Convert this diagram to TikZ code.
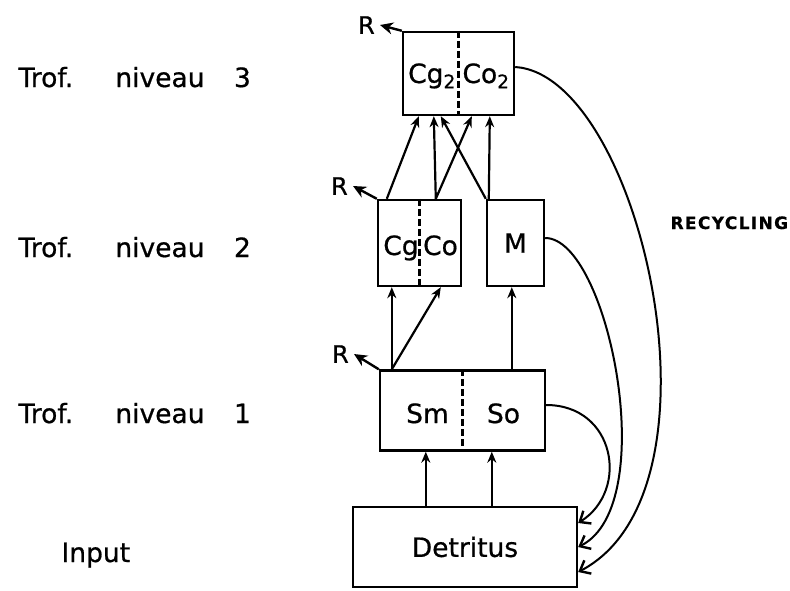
\documentclass[tikz,border=0pt]{standalone}
\usepackage{fontspec}
\setmainfont{DejaVu Sans}[FakeBold=0.7]
\usetikzlibrary{arrows.meta}
\tikzset{
  box/.style={draw,line width=2.4pt,inner sep=0pt},
  lbl/.style={font=\fontsize{26.5}{30}\selectfont},
  rlbl/.style={font=\fontsize{24}{28}\selectfont,anchor=east,inner sep=5pt},
  flow/.style={line width=2.2pt,-{Stealth[length=11pt,width=9pt]}},
  recyc/.style={line width=2pt,-{Straight Barb[length=9pt,width=15pt,line width=2.4pt]}},
  resp/.style={line width=2.4pt,-{Stealth[length=13pt,width=12pt]}},
  split/.style={line width=2.2pt,dash pattern=on 7pt off 3pt}
}
\begin{document}
\begin{tikzpicture}[x=1pt,y=-1pt]
\useasboundingbox (0,0) rectangle (790,590);

% levels
\node[lbl,anchor=base west] (lv3) at (15,87) {Trof. \hspace{31pt}niveau \hspace{21pt}3};
\node[lbl,anchor=base west] (lv2) at (15,257) {Trof. \hspace{31pt}niveau \hspace{21pt}2};
\node[lbl,anchor=base west] (lv1) at (15,423) {Trof. \hspace{31pt}niveau \hspace{21pt}1};
\node[lbl,anchor=base west] (inp) at (58,562) {Input};

% boxes
\node[box,minimum width=111pt,minimum height=83pt] (T3) at (458.5,73.5) {};
\node[box,minimum width=83pt,minimum height=86pt] (CgCo) at (419.5,243) {};
\node[box,lbl,minimum width=57pt,minimum height=86pt] (M) at (515.5,243) {M};
\node[box,minimum width=165pt,minimum height=80pt] (SmSo) at (462.5,410.5) {};
\node[box,lbl,minimum width=224pt,minimum height=80pt] (Det) at (465,547) {Detritus};
\draw[split] (T3.north) -- (T3.south);
\draw[split] (CgCo.north) -- (CgCo.south);
\draw[split] (SmSo.north) -- (SmSo.south);
\node[lbl,anchor=base] (cg2) at (432,83) {Cg\textsubscript{2}};
\node[lbl,anchor=base] (co2) at (486,83) {Co\textsubscript{2}};
\node[lbl,anchor=base] (cg) at (401,255) {Cg};
\node[lbl,anchor=base] (co) at (440.5,255) {Co};
\node[lbl,anchor=base] (sm) at (427.5,423) {Sm};
\node[lbl,anchor=base] (so) at (503.5,423) {So};

% respiration
\node[rlbl] (R3) at (380,25) {R};
\node[rlbl] (R2) at (353,186) {R};
\node[rlbl] (R1) at (354,354) {R};
\draw[resp] (T3.north west) -- (R3.east);
\draw[resp] (CgCo.north west) -- (R2.east);
\draw[resp] (SmSo.north west) -- (R1.east);

% flows
\draw[flow] ([xshift=74pt]Det.north west) -- ([xshift=47pt]SmSo.south west);
\draw[flow] ([xshift=140pt]Det.north west) -- ([xshift=113pt]SmSo.south west);
\draw[flow] ([xshift=13pt]SmSo.north west) -- ([xshift=15pt]CgCo.south west);
\draw[flow] ([xshift=13pt]SmSo.north west) -- ([xshift=64pt]CgCo.south west);
\draw[flow] ([xshift=133pt]SmSo.north west) -- ([xshift=26pt]M.south west);
\draw[flow] ([xshift=10pt]CgCo.north west) -- ([xshift=17pt]T3.south west);
\draw[flow] ([xshift=59pt]CgCo.north west) -- ([xshift=32pt]T3.south west);
\draw[flow] ([xshift=59pt]CgCo.north west) -- ([xshift=70pt]T3.south west);
\draw[flow] (M.north west) -- ([xshift=39pt]T3.south west);
\draw[flow] ([xshift=3pt]M.north west) -- ([xshift=88pt]T3.south west);

% recycling
\draw[recyc] ([yshift=6.5pt]T3.east) .. controls (640,75) and (735,490) .. ([yshift=-25pt]Det.east);
\draw[recyc] ([yshift=5pt]M.east) .. controls (608,238) and (662,505) .. (Det.east);
\draw[recyc] ([yshift=5.5pt]SmSo.east) .. controls (615,405) and (630,490) .. ([yshift=24pt]Det.east);
\node[anchor=base west,font=\fontsize{17}{20}\selectfont\bfseries] (rec) at (667,229) {\addfontfeature{LetterSpace=8}RECYCLING};
\end{tikzpicture}
\end{document}
